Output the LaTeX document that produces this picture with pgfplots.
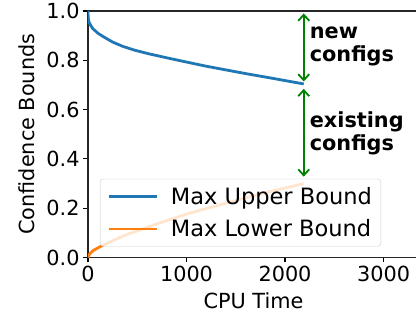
\documentclass[border=0pt]{standalone}
\usepackage{pgfplots}
\pgfplotsset{compat=1.18}
\usetikzlibrary{arrows.meta}
\usepackage{fontspec}
\setmainfont{DejaVu Sans}
\definecolor{mplblue}{HTML}{1F77B4}
\definecolor{mplorange}{HTML}{FF7F0E}
\definecolor{mplgreen}{HTML}{008000}
\newcommand{\fs}{\fontsize{20.8}{23}\selectfont}
\begin{document}
\begin{tikzpicture}
\begin{axis}[
  scale only axis, width=331pt, height=246.5pt,
  xmin=0, xmax=3360, ymin=0, ymax=1,
  xtick={0,1000,2000,3000}, ytick={0,0.2,0.4,0.6,0.8,1.0},
  xtick pos=lower, ytick pos=left,
  tick align=outside, major tick length=4.9pt,
  tick style={black, line width=1.1pt},
  axis line style={line width=1.1pt, black!85},
  /pgf/number format/assume math mode=true,
  ticklabel style={font=\fs},
  yticklabel style={/pgf/number format/.cd, fixed, fixed zerofill, precision=1},
  xticklabel style={/pgf/number format/.cd, set thousands separator={}},
  xlabel={CPU Time}, ylabel={Confidence Bounds},
  label style={font=\fs},
  xlabel style={at={(axis description cs:0.5,-0.1765)}, anchor=center},
  ylabel style={at={(axis description cs:-0.184,0.5)}, anchor=center},
  legend cell align=left,
  legend image code/.code={\draw[#1] (0pt,0pt) -- (48pt,0pt);},
  legend style={at={(axis description cs:0.036,0.045)}, anchor=south west,
    fill=white, fill opacity=0.8, text opacity=1, draw=black!20,
    rounded corners=3pt, font=\fontsize{22.5}{26}\selectfont, row sep=10pt,
    inner xsep=7pt, inner ysep=6pt, column sep=11pt},
]
\addplot[mplblue, line width=2.8pt] coordinates {
(0,1.0) (1,0.985) (2,0.975) (5,0.965) (10,0.955) (25,0.943) (50,0.928) (100,0.91)
(155,0.896) (250,0.874) (350,0.857) (465,0.842) (600,0.828) (800,0.81) (975,0.795)
(1200,0.776) (1400,0.761) (1615,0.745) (1900,0.725) (2190,0.704)};
\addlegendentry{Max Upper Bound}
\addplot[mplorange, line width=2.8pt] coordinates {
(0,0) (5,0.006) (13,0.012) (30,0.02) (60,0.03) (133,0.046) (250,0.068) (387,0.092)
(500,0.108) (660,0.131) (1000,0.176) (1185,0.197) (1480,0.229) (1820,0.265) (2190,0.30)};
\addlegendentry{Max Lower Bound}
\draw[mplgreen, line width=1.8pt, {Straight Barb[length=6pt,width=11pt]}-{Straight Barb[length=6pt,width=11pt]}]
  (axis cs:2190,0.99) -- (axis cs:2190,0.714);
\draw[mplgreen, line width=1.8pt, {Straight Barb[length=6pt,width=11pt]}-{Straight Barb[length=6pt,width=11pt]}]
  (axis cs:2190,0.684) -- (axis cs:2190,0.328);
\node[anchor=west, align=left, font=\fs\bfseries, inner sep=0pt] at (axis cs:2250,0.858) {new\\configs};
\node[anchor=west, align=left, font=\fs\bfseries, inner sep=0pt] at (axis cs:2250,0.504) {existing\\configs};
\coordinate (O) at (rel axis cs:0,0);
\end{axis}
\pgfresetboundingbox
\path (O) ++(-88pt,-62.5pt) rectangle ++(416pt,320pt);
\end{tikzpicture}
\end{document}
